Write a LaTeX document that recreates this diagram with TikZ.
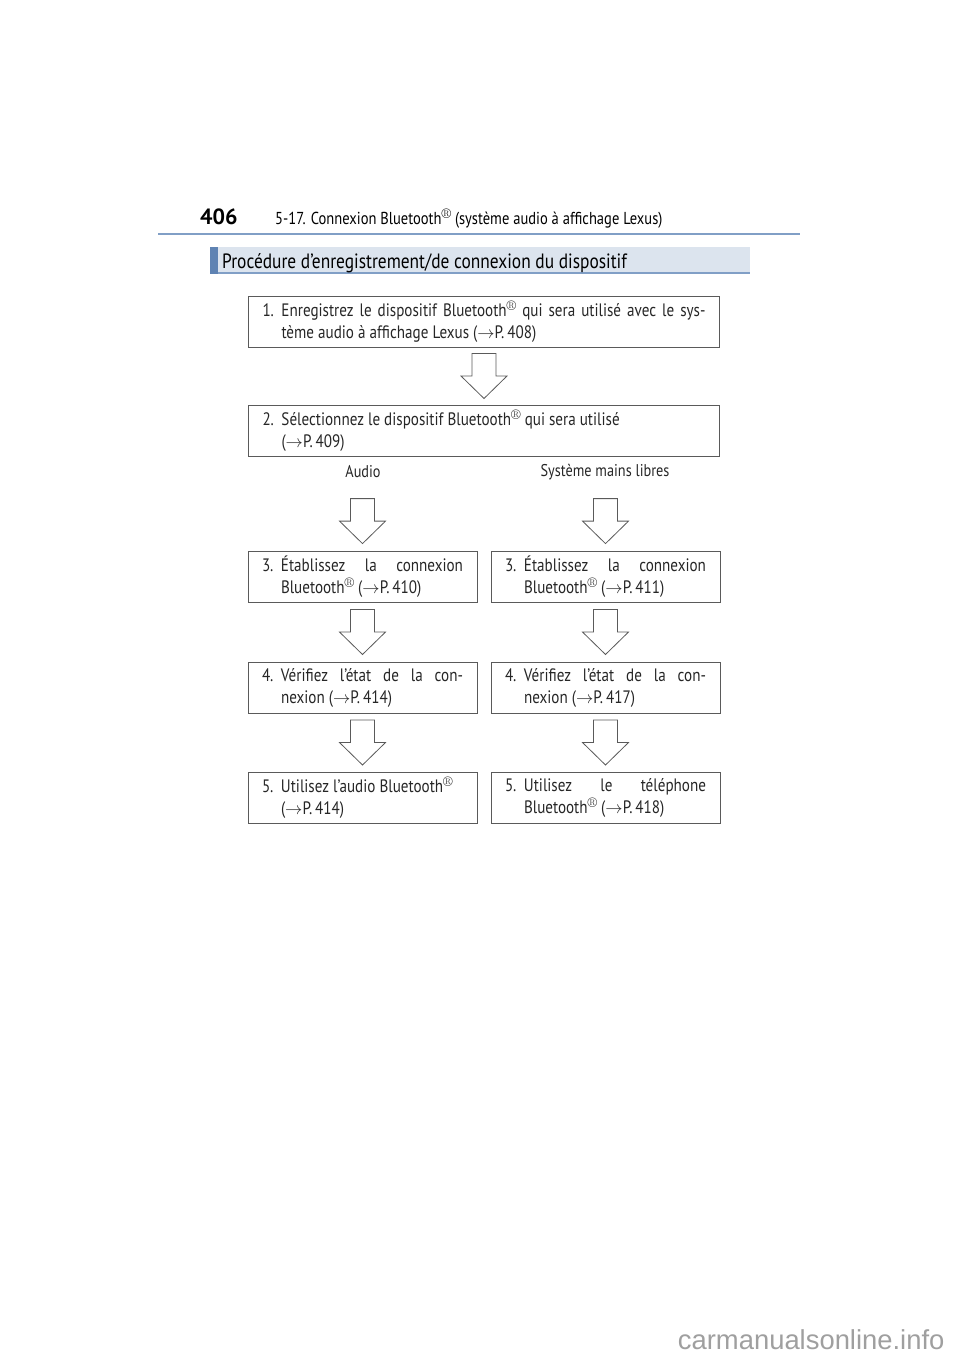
\documentclass[tikz,border=0pt]{standalone}
\usepackage{fontspec}
\setmainfont[FakeStretch=0.84]{PT Sans}
\newfontfamily\plein{PT Sans}
\newfontfamily\lmfont{Latin Modern Roman}
\newfontfamily\wmfont{Liberation Sans}
\usetikzlibrary{calc}
\definecolor{rulebleu}{HTML}{819FC6}
\definecolor{titrefond}{HTML}{DCE4EE}
\definecolor{titrebarre}{HTML}{5F83B3}
\definecolor{traitgris}{HTML}{5A5A5A}
\newcommand{\reg}{\raisebox{5.5pt}{\lmfont\fontsize{14}{14}\selectfont ®}}
\newcommand{\voir}[1]{(\ensuremath{\rightarrow}P.\,#1)}
\newcommand{\num}[1]{\makebox[19pt][l]{#1}}
\newcommand{\just}[2]{\makebox[#1][s]{#2}}
\tikzset{
etape/.style={draw=traitgris, line width=0.8pt, inner xsep=14pt, inner ysep=0pt,
  minimum height=51pt, text width=#1, align=justify, text=black!85,
  font=\fontsize{18}{22}\selectfont},
etiquette/.style={text=black!85, font=\fontsize{17}{20}\selectfont},
fleche/.pic={
  \draw[traitgris, line width=0.8pt, fill=white] (-12,-22.5) -- (12,-22.5) -- (12,0)
    -- (23,0) -- (0,22.5) -- (-23,0) -- (-12,0) -- cycle;
  }
}
\begin{document}
\begin{tikzpicture}[x=1pt, y=-1pt]
\useasboundingbox (0,0) rectangle (960,1358);
% en-tete
\node[anchor=base west, inner sep=0pt, font=\plein\bfseries\fontsize{22}{24}\selectfont] (page) at (200,224) {406};
\node[anchor=base west, inner sep=0pt, font=\fontsize{17.3}{19}\selectfont] (chapitre) at (275,224)
  {5-17. Connexion Bluetooth\reg{} (système audio à affichage Lexus)};
\draw[rulebleu, line width=2.5pt] (158,234) -- (800,234);
\fill[titrefond] (210,247) rectangle (750,274);
\fill[titrebarre] (210,247) rectangle (218,274);
\draw[rulebleu, line width=1.5pt] (218,273) -- (750,273);
\node[anchor=base west, inner sep=0pt, font=\fontsize{20.7}{22}\selectfont] (titre) at (222,268)
  {Procédure d'enregistrement/de connexion du dispositif};
% etapes communes
\node[etape=443pt] (b1) at (484,321.5) {\num{1.}\just{424pt}{Enregistrez le dispositif
  Bluetooth\reg{} qui sera utilisé avec le sys-}\newline
  \hspace*{19pt}tème audio à affichage Lexus \voir{408}};
\node[etape=443pt] (b2) at (484,430.5) {\num{2.}Sélectionnez le dispositif
  Bluetooth\reg{} qui sera utilisé\newline
  \hspace*{19pt}\voir{409}};
\pic at ($(b1.south)!0.5!(b2.north)$) {fleche};
\node[etiquette] (audio) at (363,472) {Audio};
\node[etiquette] (mains) at (605,472) {Système mains libres};
% deux colonnes
\node[etape=201pt] (b3a) at (362.5,576.5) {\num{3.}\just{182pt}{Établissez la
  connexion}\newline\hspace*{19pt}Bluetooth\reg{} \voir{410}};
\node[etape=201pt] (b3m) at (605.5,576.5) {\num{3.}\just{182pt}{Établissez la
  connexion}\newline\hspace*{19pt}Bluetooth\reg{} \voir{411}};
\node[etape=201pt] (b4a) at (362.5,687.5) {\num{4.}\just{182pt}{Vérifiez l'état de la
  con-}\newline\hspace*{19pt}nexion \voir{414}};
\node[etape=201pt] (b4m) at (605.5,687.5) {\num{4.}\just{182pt}{Vérifiez l'état de la
  con-}\newline\hspace*{19pt}nexion \voir{417}};
\node[etape=201pt] (b5a) at (362.5,797.5) {\num{5.}Utilisez l'audio
  Bluetooth\reg\newline\hspace*{19pt}\voir{414}};
\node[etape=201pt] (b5m) at (605.5,797.5) {\num{5.}\just{182pt}{Utilisez le
  téléphone}\newline\hspace*{19pt}Bluetooth\reg{} \voir{418}};
\pic at ($(b3a.north)+(0,-29.5)$) {fleche};
\pic at ($(b3m.north)+(0,-29.5)$) {fleche};
\pic at ($(b3a.south)!0.5!(b4a.north)$) {fleche};
\pic at ($(b3m.south)!0.5!(b4m.north)$) {fleche};
\pic at ($(b4a.south)!0.5!(b5a.north)$) {fleche};
\pic at ($(b4m.south)!0.5!(b5m.north)$) {fleche};
\node[anchor=east, text=gray!75, font=\wmfont\fontsize{27.4}{30}\selectfont] (site) at (948,1340)
  {carmanualsonline.info};
\end{tikzpicture}
\end{document}
